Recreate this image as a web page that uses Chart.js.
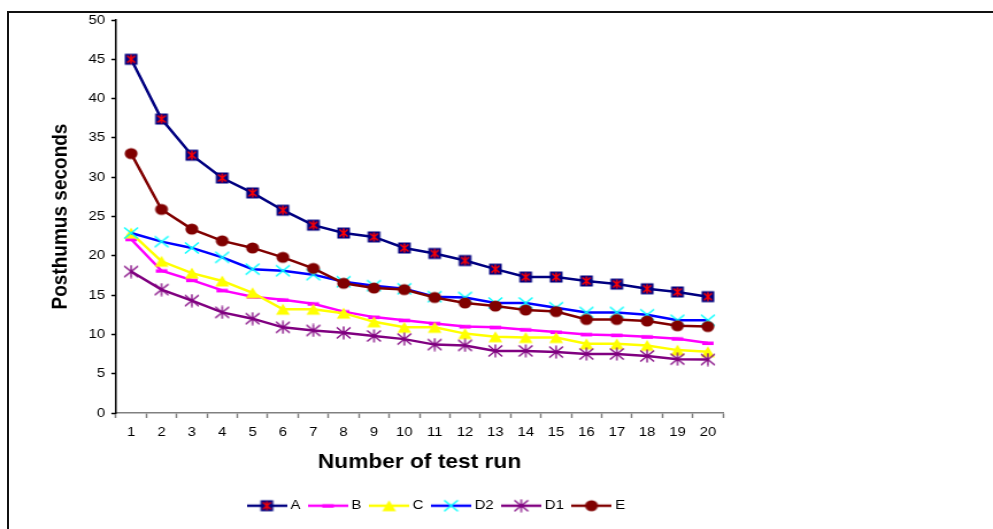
<!DOCTYPE html>
<html>
<head>
<meta charset="utf-8">
<script src="https://cdn.jsdelivr.net/npm/chart.js@4.4.1/dist/chart.umd.min.js"></script>
<style>
  html, body { margin: 0; padding: 0; background: #fff; overflow: hidden; }
  #wrap { position: relative; width: 993px; height: 529px; }
  #frame { position: absolute; left: 7px; top: 11px; width: 990px; height: 520px;
           border-top: 2px solid #111; border-left: 2px solid #111; }
  /* the original picture is stretched sideways, so the chart is drawn narrower and widened */
  #chart { position: absolute; left: 0; top: 0; transform: scaleX(1.1493); transform-origin: 0 0; }
</style>
</head>
<body>
<div id="wrap">
  <div id="frame"></div>
  <canvas id="chart" width="864" height="529"></canvas>
</div>
<script>
document.addEventListener('DOMContentLoaded', () => {
    const runs = ['1','2','3','4','5','6','7','8','9','10','11','12','13','14','15','16','17','18','19','20'];

    const seriesA  = [45, 37.4, 32.8, 29.9, 28, 25.8, 23.9, 22.9, 22.4, 21, 20.3, 19.4, 18.3, 17.3, 17.3, 16.8, 16.4, 15.8, 15.4, 14.8];
    const seriesB  = [22.1, 18.1, 16.9, 15.6, 14.8, 14.4, 13.9, 12.9, 12.2, 11.8, 11.4, 11, 10.9, 10.6, 10.3, 10, 9.9, 9.7, 9.45, 8.9];
    const seriesC  = [22.9, 19.3, 17.8, 16.8, 15.3, 13.2, 13.2, 12.7, 11.6, 10.9, 10.9, 10.1, 9.7, 9.6, 9.6, 8.8, 8.8, 8.6, 8, 7.8];
    const seriesD2 = [22.9, 21.8, 21, 19.8, 18.3, 18.1, 17.6, 16.7, 16.2, 15.8, 14.8, 14.7, 14, 14, 13.4, 12.8, 12.8, 12.5, 11.8, 11.8];
    const seriesD1 = [18, 15.7, 14.3, 12.8, 12, 10.9, 10.5, 10.2, 9.8, 9.4, 8.7, 8.6, 7.9, 7.9, 7.75, 7.5, 7.5, 7.25, 6.85, 6.8];
    const seriesE  = [33, 25.9, 23.4, 21.9, 21, 19.8, 18.4, 16.5, 15.9, 15.7, 14.7, 14, 13.6, 13.1, 12.9, 11.9, 11.9, 11.7, 11.1, 11];

    const yTicks = [0, 5, 10, 15, 20, 25, 30, 35, 40, 45, 50];

    const FONT = 'Liberation Sans, Arial, sans-serif';
    Chart.defaults.font.family = FONT;
    Chart.defaults.color = '#000';

    // excel-like markers drawn on small canvases
    function marker(kind) {
        const c = document.createElement('canvas');
        c.width = 14; c.height = 14;
        const g = c.getContext('2d');
        g.lineCap = 'butt';
        if (kind === 'A') {
            g.fillStyle = '#000080';
            g.fillRect(1.5, 1.5, 11, 11);
            g.strokeStyle = '#ff0000';
            g.lineWidth = 1.5;
            g.beginPath();
            g.moveTo(3.5, 3.5); g.lineTo(10.5, 10.5);
            g.moveTo(10.5, 3.5); g.lineTo(3.5, 10.5);
            g.moveTo(7, 2.5); g.lineTo(7, 11.5);
            g.stroke();
        } else if (kind === 'B') {
            g.fillStyle = '#ff00ff';
            g.fillRect(2, 5.5, 10, 3.5);
        } else if (kind === 'C') {
            g.fillStyle = '#ffff00';
            g.beginPath();
            g.moveTo(7, 1.5); g.lineTo(13, 12.5); g.lineTo(1, 12.5);
            g.closePath();
            g.fill();
        } else if (kind === 'D2') {
            g.strokeStyle = '#00ffff';
            g.lineWidth = 1.5;
            g.beginPath();
            g.moveTo(1, 1.5); g.lineTo(13, 12.5);
            g.moveTo(13, 1.5); g.lineTo(1, 12.5);
            g.stroke();
        } else if (kind === 'D1') {
            g.strokeStyle = '#800080';
            g.lineWidth = 1.3;
            g.beginPath();
            g.moveTo(1, 1.5); g.lineTo(13, 12.5);
            g.moveTo(13, 1.5); g.lineTo(1, 12.5);
            g.moveTo(7, 0.5); g.lineTo(7, 13.5);
            g.stroke();
        } else if (kind === 'E') {
            g.fillStyle = '#800000';
            g.beginPath();
            g.arc(7, 7, 5.6, 0, Math.PI * 2);
            g.fill();
        }
        return c;
    }

    // legend symbol: short line with the marker on it
    function legendSymbol(color, mk) {
        const c = document.createElement('canvas');
        c.width = 35; c.height = 14;
        const g = c.getContext('2d');
        g.strokeStyle = color;
        g.lineWidth = 2.5;
        g.beginPath();
        g.moveTo(0, 7); g.lineTo(35, 7);
        g.stroke();
        g.drawImage(mk, 10.5, 0);
        return c;
    }

    const names  = ['A', 'B', 'C', 'D2', 'D1', 'E'];
    const colors = ['#000080', '#ff00ff', '#ffff00', '#0000ff', '#800080', '#800000'];
    const values = [seriesA, seriesB, seriesC, seriesD2, seriesD1, seriesE];

    const datasets = names.map((name, i) => {
        const mk = marker(name);
        return {
            label: name,
            data: values[i],
            borderColor: colors[i],
            backgroundColor: colors[i],
            borderWidth: 2.5,
            tension: 0,
            fill: false,
            pointStyle: mk,
            pointRadius: 6,
            order: names.length - i,
            legendImg: legendSymbol(colors[i], mk)
        };
    });

    // move legend row to where it sits in the original
    const legendShift = {
        id: 'legendShift',
        afterLayout(chart) {
            chart.legend.left += 16;
            chart.legend.right += 16;
        }
    };

    new Chart(document.getElementById('chart'), {
        type: 'line',
        data: { labels: runs, datasets: datasets },
        plugins: [legendShift],
        options: {
            responsive: false,
            animation: false,
            devicePixelRatio: 1,
            layout: { padding: { top: 20, left: 0, right: 234.9, bottom: 6.8 } },
            plugins: {
                tooltip: { enabled: false },
                legend: {
                    position: 'bottom',
                    fullSize: false,
                    labels: {
                        usePointStyle: true,
                        pointStyleWidth: 28,
                        padding: 10,
                        color: '#000',
                        font: { size: 13, family: FONT },
                        generateLabels: (chart) => chart.data.datasets.map((ds, i) => ({
                            text: ds.label,
                            pointStyle: ds.legendImg,
                            fillStyle: ds.borderColor,
                            strokeStyle: ds.borderColor,
                            lineWidth: 0,
                            hidden: false,
                            datasetIndex: i
                        }))
                    }
                }
            },
            scales: {
                x: {
                    offset: true,
                    grid: { offset: true, drawOnChartArea: false, tickLength: 5, tickColor: '#808080', tickWidth: 1.5 },
                    border: { color: '#808080', width: 1.5 },
                    ticks: { autoSkip: false, maxRotation: 0, padding: 6.7, font: { size: 13 } },
                    title: {
                        display: true,
                        text: 'Number of test run',
                        font: { size: 19.8, weight: 'bold' },
                        padding: { top: 0, bottom: 14.5 }
                    },
                    afterFit: (scale) => { scale.height = 76.2; }
                },
                y: {
                    min: 0,
                    max: 50,
                    afterBuildTicks: (scale) => { scale.ticks = yTicks.map(v => ({ value: v })); },
                    grid: { drawOnChartArea: false, tickLength: 4, tickColor: '#000', tickWidth: 1.5 },
                    border: { color: '#000', width: 1.5 },
                    ticks: { padding: 5.5, font: { size: 13 } },
                    title: {
                        display: true,
                        text: 'Posthumus seconds',
                        font: { size: 19, weight: 'bold' },
                        padding: { top: 41.7, bottom: 0 }
                    },
                    afterFit: (scale) => { scale.width = 100.9; }
                }
            }
        }
    });
});
</script>
</body>
</html>
